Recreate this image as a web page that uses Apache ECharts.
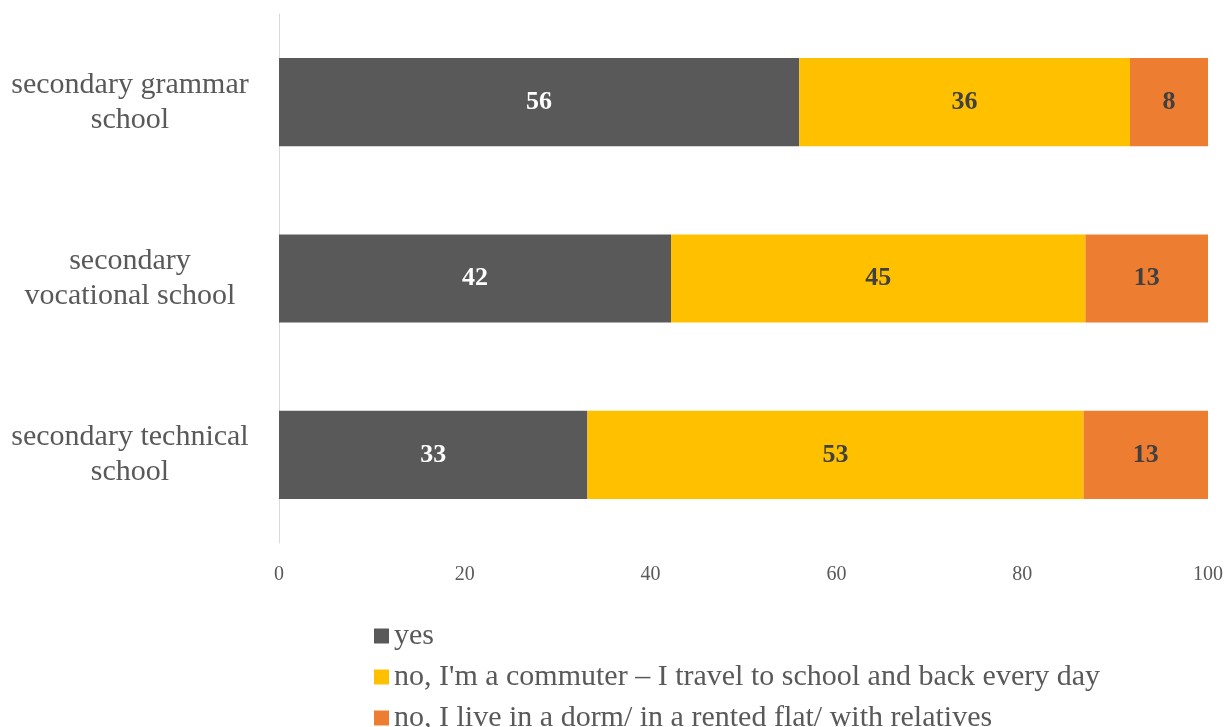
<!DOCTYPE html>
<html>
<head>
<meta charset="utf-8">
<script src="https://cdn.jsdelivr.net/npm/echarts@6/dist/echarts.min.js"></script>
<style>
  html, body { margin: 0; padding: 0; background: #fff; }
  #barChart { width: 1226px; height: 727px; }
</style>
</head>
<body>
<div id="barChart"></div>
<script>
const categories = ['secondary technical\nschool', 'secondary\nvocational school', 'secondary grammar\nschool'];
const seriesNames = ['yes', "no, I'm a commuter \u2013 I travel to school and back every day", 'no, I live in a dorm/ in a rented flat/ with relatives'];
const yesValues = [33.2, 42.2, 56.0];
const commuterValues = [53.4, 44.6, 35.6];
const dormValues = [13.4, 13.2, 8.4];
const xTicks = [0, 20, 40, 60, 80, 100];

const font = 'Liberation Serif';
const colors = ['#595959', '#FFC000', '#ED7D31'];
const labelColors = ['#ffffff', '#404040', '#404040'];

function BarChart() {
    const chart = echarts.init(document.getElementById('barChart'));

    const series = [yesValues, commuterValues, dormValues].map((vals, i) => ({
        name: seriesNames[i],
        type: 'bar',
        stack: 'total',
        barWidth: '50%',
        data: vals,
        itemStyle: { color: colors[i] },
        label: {
            show: true,
            position: 'inside',
            color: labelColors[i],
            fontFamily: font,
            fontWeight: 'bold',
            fontSize: 26,
            formatter: p => Math.round(p.value)
        }
    }));

    // one legend per item so the vertical list never wraps into columns
    const legends = seriesNames.map((name, i) => ({
        orient: 'vertical',
        left: 369,
        top: 616 + i * 41,
        itemWidth: 15,
        itemHeight: 15,
        icon: 'rect',
        textStyle: { fontFamily: font, fontSize: 30, color: '#595959' },
        data: [name]
    }));

    const option = {
        animation: false,
        textStyle: { fontFamily: font },
        grid: { left: 279, right: 16, top: 14, bottom: 184, containLabel: false },
        legend: legends,
        xAxis: {
            type: 'value',
            min: xTicks[0],
            max: xTicks[xTicks.length - 1],
            interval: 20,
            axisLine: { show: false },
            axisTick: { show: false },
            splitLine: { show: false },
            axisLabel: { color: '#595959', fontFamily: font, fontSize: 20, margin: 22 }
        },
        yAxis: {
            type: 'category',
            data: categories,
            axisLine: { show: true, lineStyle: { color: '#d9d9d9', width: 1 } },
            axisTick: { show: false },
            axisLabel: {
                color: '#595959',
                fontFamily: font,
                fontSize: 30,
                lineHeight: 35,
                align: 'center',
                margin: 149
            }
        },
        series: series
    };

    chart.setOption(option);
}

BarChart();
</script>
</body>
</html>
